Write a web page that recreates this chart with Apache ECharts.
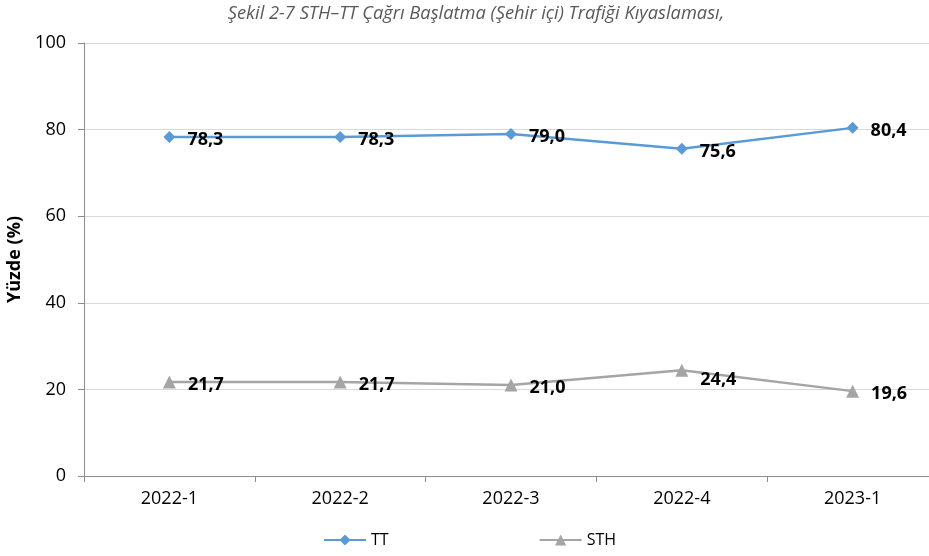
<!DOCTYPE html>
<html><head><meta charset="utf-8">
<script src="https://cdn.jsdelivr.net/npm/echarts@6/dist/echarts.min.js"></script>
<style>html,body{margin:0;padding:0;background:#fff}#c{width:929px;height:556px}</style>
</head><body><div id="c"></div>
<script>
const categories = ['2022-1','2022-2','2022-3','2022-4','2023-1'];
const ttValues = [78.3, 78.3, 79.0, 75.6, 80.4];
const sthValues = [21.7, 21.7, 21.0, 24.4, 19.6];
const yTicks = [0, 20, 40, 60, 80, 100];

const chart = echarts.init(document.getElementById('c'), null, {renderer:'canvas'});
const lbl = {
  show: true, position: 'right', distance: 12, offset: [0, 3],
  fontFamily: 'Open Sans, Liberation Sans, sans-serif', fontWeight: 'bold', fontSize: 18, color: '#000',
  formatter: p => p.value.toFixed(1).replace('.', ',')
};
// the 2022-4 STH label sits a little lower in the reference
const sthData = sthValues.map((v, i) => i === 3 ? {value: v, label: {offset: [0, 10]}} : v);
chart.setOption({
  animation: false,
  title: {
    text: 'Şekil 2-7 STH–TT Çağrı Başlatma (Şehir içi) Trafiği Kıyaslaması,',
    left: 471, top: 0, textAlign: 'center',
    textStyle: {fontFamily: 'Open Sans, Noto Sans, sans-serif', fontStyle: 'italic', fontWeight: 'normal', fontSize: 18.3, color: '#595959'}
  },
  legend: {
    bottom: 3, left: 318, itemGap: 150, itemWidth: 42, itemHeight: 14,
    textStyle: {fontFamily: 'Open Sans, sans-serif', fontSize: 16, color: '#000'},
    data: ['TT', 'STH']
  },
  grid: {left: 84, top: 43, right: -9, bottom: 80, outerBoundsMode: 'none', containLabel: false},
  xAxis: {
    type: 'category', data: categories, boundaryGap: true,
    axisLine: {lineStyle: {color: '#8c8c8c', width: 1}},
    axisTick: {show: true, length: 6, inside: false, lineStyle: {color: '#8c8c8c'}},
    axisLabel: {fontFamily: 'Open Sans, sans-serif', fontSize: 18, color: '#000', margin: 14}
  },
  yAxis: {
    type: 'value', min: yTicks[0], max: yTicks[yTicks.length-1], interval: 20,
    name: 'Yüzde (%)', nameLocation: 'middle', nameGap: 58, nameRotate: 90,
    nameTextStyle: {fontFamily: 'Open Sans, sans-serif', fontWeight: 'bold', fontSize: 18, color: '#000'},
    axisLine: {show: true, lineStyle: {color: '#8c8c8c', width: 1}},
    axisTick: {show: true, length: 6, lineStyle: {color: '#8c8c8c'}},
    axisLabel: {fontFamily: 'Open Sans, sans-serif', fontSize: 18, color: '#000', margin: 18},
    splitLine: {lineStyle: {color: '#d9d9d9', width: 1}}
  },
  series: [
    {name: 'TT', type: 'line', data: ttValues, symbol: 'diamond', symbolSize: 12,
     lineStyle: {color: '#5B9BD5', width: 2.5}, itemStyle: {color: '#5B9BD5'},
     label: Object.assign({}, lbl)},
    {name: 'STH', type: 'line', data: sthData, symbol: 'triangle', symbolSize: 13,
     lineStyle: {color: '#A5A5A5', width: 2.5}, itemStyle: {color: '#A5A5A5'},
     label: Object.assign({}, lbl)}
  ]
});
</script></body></html>
